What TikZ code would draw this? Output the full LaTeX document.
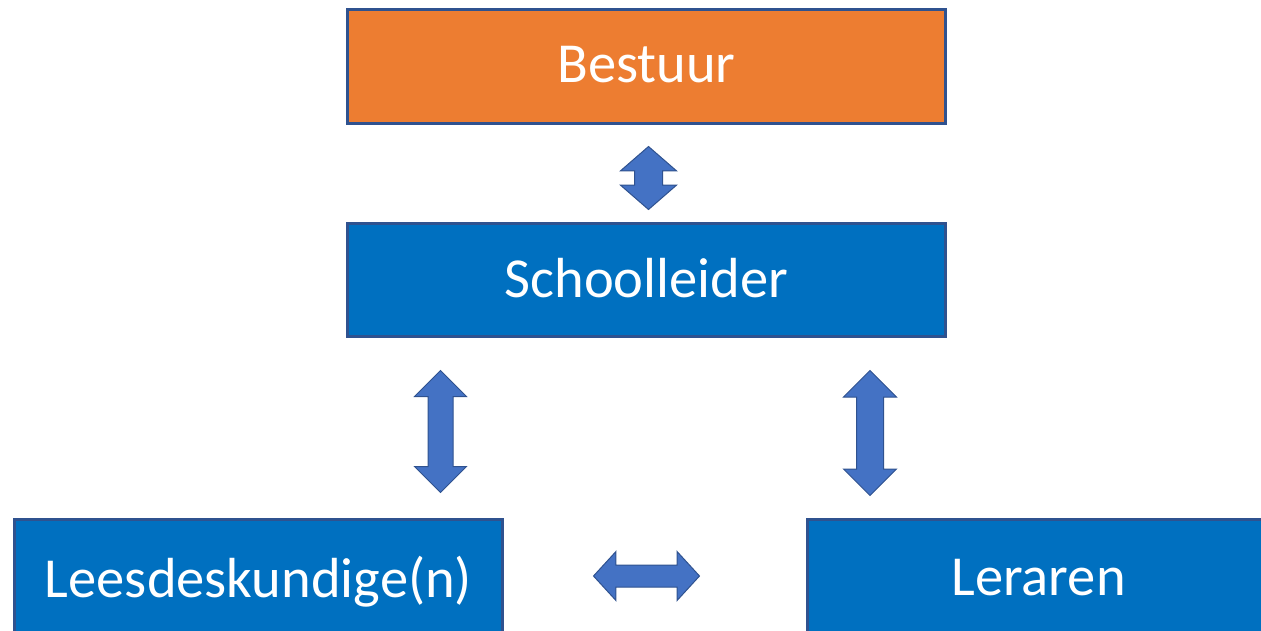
\documentclass[tikz,border=0pt]{standalone}
\usepackage{fontspec}
\setmainfont{Carlito}
\usetikzlibrary{shapes.arrows}
\definecolor{boxorange}{HTML}{ED7D31}
\definecolor{boxblue}{HTML}{0070C0}
\definecolor{boxline}{HTML}{2F528F}
\definecolor{arrowblue}{HTML}{4472C4}
\begin{document}
\begin{tikzpicture}[x=1pt, y=-1pt,
    box/.style = {draw=boxline, line width=2.5pt, text=white, font=\fontsize{56.5}{60}\selectfont, inner sep=0pt},
    dblarrow/.style = {double arrow, draw=boxline, fill=arrowblue, line width=1pt, inner sep=0pt, minimum width=1pt}]
    \useasboundingbox (0,0) rectangle (1261,630);

    \node[box, fill=boxorange, minimum width=598pt, minimum height=114pt] (bestuur) at (646.5, 66.5) {\raisebox{5pt}{Bestuur}};
    \node[box, fill=boxblue, minimum width=598pt, minimum height=113pt] (school) at (646.5, 280) {\raisebox{5pt}{Schoolleider}};
    \node[box, fill=boxblue, minimum width=488pt, minimum height=130pt] (lees) at (258.5, 584.5) {\raisebox{15pt}{Leesdeskundige(n)}};
    \node[box, fill=boxblue, minimum width=462pt, minimum height=130pt] (leraren) at (1038.5, 584.5) {\raisebox{15pt}{Leraren}};

    \node[dblarrow, rotate=90, minimum height=63pt, inner ysep=13.5pt, double arrow head extend=14pt, double arrow tip angle=98] (a0) at (648.5, 178) {};
    \node[dblarrow, rotate=90, minimum height=122pt, inner ysep=12pt, double arrow head extend=13.5pt] (a1) at (440.5, 431.5) {};
    \node[dblarrow, rotate=90, minimum height=125pt, inner ysep=13pt, double arrow head extend=13pt] (a2) at (870, 433) {};
    \node[dblarrow, minimum height=106pt, inner ysep=10.5pt, double arrow head extend=13.5pt, double arrow tip angle=95] (a3) at (646.5, 576) {};

\end{tikzpicture}
\end{document}
